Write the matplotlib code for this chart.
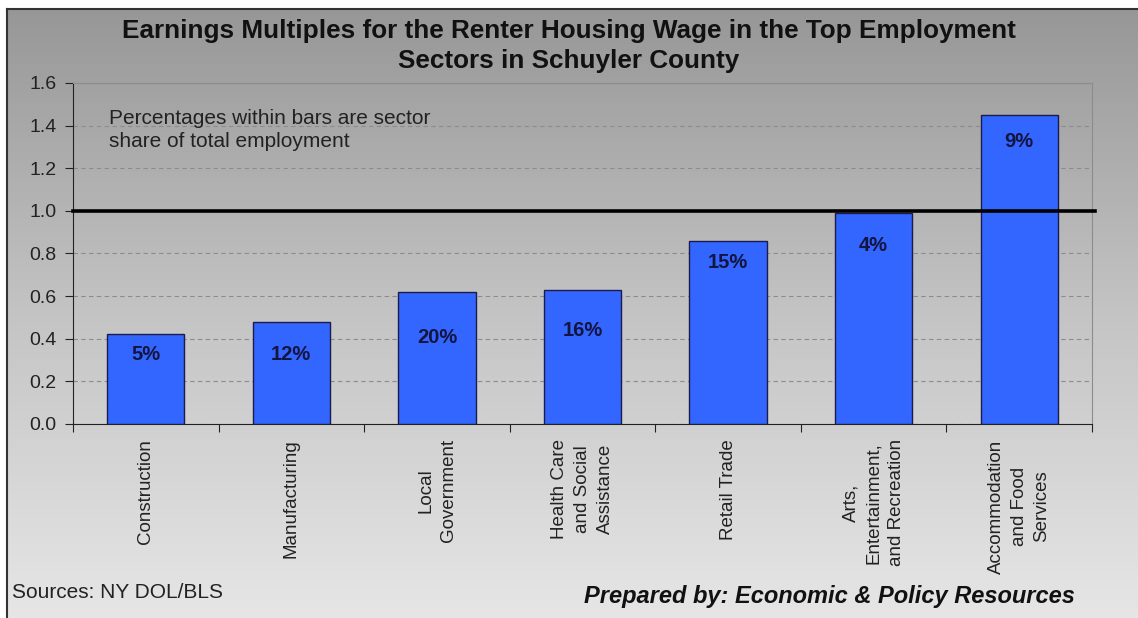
import matplotlib
import matplotlib.pyplot as plt
import numpy as np

matplotlib.use("Agg")

plt.rcParams["font.family"] = ["Liberation Sans", "DejaVu Sans"]

sectors = [
    "Construction",
    "Manufacturing",
    "Local\nGovernment",
    "Health Care\nand Social\nAssistance",
    "Retail Trade",
    "Arts,\nEntertainment,\nand Recreation",
    "Accommodation\nand Food\nServices",
]
multiples = [0.42, 0.48, 0.62, 0.63, 0.86, 0.99, 1.45]
employment_share = ["5%", "12%", "20%", "16%", "15%", "4%", "9%"]
y_ticks = [0.0, 0.2, 0.4, 0.6, 0.8, 1.0, 1.2, 1.4, 1.6]

# how far below each bar top its share label sits (data units)
label_drop = [0.096, 0.156, 0.216, 0.193, 0.104, 0.154, 0.126]

W, H = 1138, 618
fig = plt.figure(figsize=(W / 100, H / 100), dpi=100)

# grey gradient panel behind the whole chart
bg = fig.add_axes([7 / W, 0, 1 - 7 / W, 1 - 9 / H], zorder=0)
grad = np.linspace(0, 1, 256).reshape(-1, 1)
bg.imshow(grad, aspect="auto", cmap=matplotlib.colors.LinearSegmentedColormap.from_list(
    "panel", ["#979797", "#c4c4c4", "#e6e6e6"]), extent=[0, 1, 0, 1], origin="upper")
bg.set_xticks([])
bg.set_yticks([])
for side in ("right", "bottom"):
    bg.spines[side].set_visible(False)
for side in ("left", "top"):
    bg.spines[side].set_color("#333333")
    bg.spines[side].set_linewidth(1.5)

ax = fig.add_axes([73 / W, 1 - 424 / H, (1092 - 73) / W, (424 - 83) / H], zorder=1)
ax.set_facecolor("none")

x = np.arange(len(sectors))
ax.bar(x, multiples, width=0.53, color="#3366ff", edgecolor="#1a1a4d", linewidth=1.0, zorder=3)

for xi, val, share, drop in zip(x, multiples, employment_share, label_drop):
    ax.text(xi, val - drop, share, ha="center", va="center", fontsize=14.5,
            fontweight="bold", color="#141440", zorder=4)

ax.axhline(1.0, color="black", linewidth=2.6, zorder=5, xmax=1.003, clip_on=False)

ax.set_ylim(0, 1.6)
ax.set_xlim(-0.5, len(sectors) - 0.5)
ax.set_yticks(y_ticks)
ax.set_yticklabels([f"{v:.1f}" for v in y_ticks], fontsize=14, color="#222222")
ax.yaxis.grid(True, linestyle=(0, (4, 3)), color="#8c8c8c", linewidth=0.8, zorder=1)
ax.set_axisbelow(True)

ax.set_xticks(np.arange(len(sectors) + 1) - 0.5)
ax.set_xticklabels([])
ax.set_xticks(x, minor=True)
ax.set_xticklabels(sectors, minor=True, rotation=90, fontsize=13.5, color="#222222",
                   ha="center", va="top", multialignment="center", linespacing=1.45)
ax.tick_params(axis="x", which="minor", length=0, pad=11)
ax.tick_params(axis="x", which="major", length=6, direction="out", color="#222222")
ax.tick_params(axis="y", length=6, direction="out", color="#222222", pad=6)

ax.spines["left"].set_color("#222222")
ax.spines["bottom"].set_color("#222222")
ax.spines["top"].set_color("#8c8c8c")
ax.spines["right"].set_color("#8c8c8c")

ax.text(0.035, 0.925, "Percentages within bars are sector\nshare of total employment",
        transform=ax.transAxes, ha="left", va="top", fontsize=15, color="#222222",
        linespacing=1.3)

fig.text(569 / W, 1 - 46 / H,
         "Earnings Multiples for the Renter Housing Wage in the Top Employment\nSectors in Schuyler County",
         ha="center", va="center", fontsize=18.8, fontweight="bold", color="#111111", linespacing=1.35)

fig.text(12 / W, 1 - 593 / H, "Sources: NY DOL/BLS", ha="left", va="center", fontsize=15,
         color="#222222")
fig.text(1075 / W, 1 - 596 / H, "Prepared by: Economic & Policy Resources", ha="right",
         va="center", fontsize=17, fontweight="bold", fontstyle="italic", color="#111111")

fig.savefig("out.png", dpi=100)
